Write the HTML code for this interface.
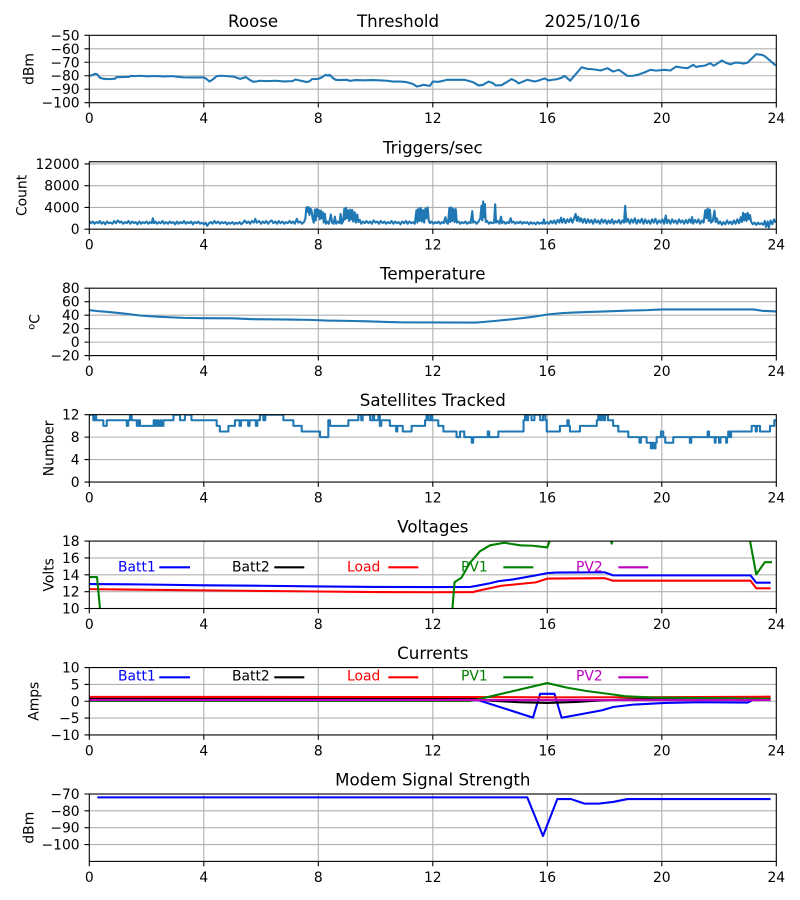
<!DOCTYPE html>
<html><head><meta charset="utf-8"><style>
html,body{margin:0;padding:0;background:#fff;}
svg{display:block;}
text{font-family:"DejaVu Sans","Liberation Sans",sans-serif;font-size:13.89px;fill:#000;}
.yt{text-anchor:end;}
.xt{text-anchor:middle;}
.ti{font-size:16.67px;text-anchor:middle;}
.tl{font-size:16.67px;}
.yl{text-anchor:middle;}
.grid{stroke:#b0b0b0;stroke-width:1.1;fill:none;}
.tick{stroke:#000;stroke-width:1.1;fill:none;}
.spine{stroke:#000;stroke-width:1.1;fill:none;}
.d{fill:none;stroke-width:2.08;stroke-linejoin:round;vector-effect:non-scaling-stroke;}
.c0{stroke:#1f77b4;}
</style></head><body>
<svg width="800" height="900" viewBox="0 0 800 900" xmlns="http://www.w3.org/2000/svg">
<defs>
<clipPath id="k1" clipPathUnits="userSpaceOnUse"><rect x="89.3" y="35.3" width="687" height="67.4"/></clipPath>
<clipPath id="k2" clipPathUnits="userSpaceOnUse"><rect x="89.3" y="161.75" width="687" height="67.4"/></clipPath>
<clipPath id="k3" clipPathUnits="userSpaceOnUse"><rect x="89.3" y="288.2" width="687" height="67.4"/></clipPath>
<clipPath id="k4" clipPathUnits="userSpaceOnUse"><rect x="89.3" y="414.65" width="687" height="67.4"/></clipPath>
<clipPath id="k5" clipPathUnits="userSpaceOnUse"><rect x="89.3" y="541.1" width="687" height="67.4"/></clipPath>
<clipPath id="k6" clipPathUnits="userSpaceOnUse"><rect x="89.3" y="667.55" width="687" height="67.4"/></clipPath>
<clipPath id="k7" clipPathUnits="userSpaceOnUse"><rect x="89.3" y="794" width="687" height="67.4"/></clipPath>
</defs>
<rect width="800" height="900" fill="#fff"/>

<!-- ============ P1 dBm ============ -->
<text class="tl" x="228" y="26.8">Roose</text>
<text class="tl" x="357" y="26.8">Threshold</text>
<text class="tl" x="544.5" y="26.8">2025/10/16</text>
<path class="grid" d="M203.8,35.3V102.7M318.3,35.3V102.7M432.8,35.3V102.7M547.3,35.3V102.7M661.8,35.3V102.7M89.3,48.78H776.3M89.3,62.26H776.3M89.3,75.74H776.3M89.3,89.22H776.3"/>
<g clip-path="url(#k1)"><polyline class="d c0" transform="matrix(28.625 0 0 -1.348 89.3 -32.1)" points="0,-80.1 0.1,-79.5 0.2,-78.6 0.28,-79 0.37,-81.5 0.5,-82.3 0.7,-82.5 0.9,-82.2 0.95,-81 1.2,-81 1.4,-80.8 1.45,-80.1 1.6,-80.3 1.8,-80 2.0,-80.4 2.3,-80.2 2.6,-80.5 2.9,-80.3 3.1,-80.8 3.3,-81.2 3.6,-81.3 4.0,-81.2 4.1,-82.5 4.2,-84.3 4.3,-83 4.45,-80.3 4.6,-80 4.8,-80.3 5.03,-80.6 5.15,-81.5 5.27,-82.3 5.4,-81.5 5.47,-81 5.6,-83 5.73,-84.5 5.85,-84.2 5.96,-83.7 6.2,-84 6.5,-83.7 6.8,-84.2 7.1,-84 7.2,-82.8 7.35,-83.5 7.6,-84.7 7.7,-84 7.78,-82.5 8.0,-82.3 8.1,-81.5 8.25,-79.3 8.35,-80 8.4,-79.3 8.5,-81.5 8.6,-83 8.76,-83.2 9.0,-83 9.1,-83.8 9.3,-83.2 9.6,-83.4 9.9,-83.2 10.2,-83.5 10.4,-83.7 10.6,-84.3 10.85,-84.3 11.08,-84.7 11.3,-86 11.44,-88 11.55,-87.5 11.67,-86.7 11.8,-87.2 11.9,-87.5 12.0,-84.3 12.2,-84.5 12.37,-83.7 12.5,-83 12.8,-83 13.1,-83 13.4,-84.7 13.6,-87.2 13.75,-86.8 13.95,-84.3 14.1,-85.5 14.2,-87.2 14.4,-87 14.6,-84.5 14.75,-82.5 14.9,-84 15.0,-85.7 15.15,-84.3 15.3,-83 15.55,-84.3 15.7,-83.5 15.9,-82 16.05,-83.5 16.2,-83 16.35,-82.5 16.5,-81.5 16.6,-80.1 16.8,-83.7 17.2,-73.7 17.4,-74.9 17.6,-75.2 17.86,-76.1 18.1,-74.4 18.3,-76.9 18.5,-75.6 18.8,-80.1 19.0,-80 19.16,-79.3 19.4,-77.5 19.6,-75.6 19.8,-76.2 20.1,-75.6 20.3,-76.1 20.5,-73.2 20.7,-74 20.9,-74.4 21.1,-71.9 21.2,-73.5 21.3,-73 21.5,-72.5 21.7,-70.7 21.8,-72.5 21.9,-71.5 22.1,-68.7 22.25,-70.5 22.4,-71.6 22.55,-70.3 22.7,-70.3 22.85,-71 23.0,-70.3 23.15,-67 23.3,-64 23.5,-64.5 23.6,-65.5 23.75,-68.2 23.95,-71.9 24,-72"/></g>
<rect class="spine" x="89.3" y="35.3" width="687" height="67.4"/>
<path class="tick" d="M89.3,102.7v4.86M203.8,102.7v4.86M318.3,102.7v4.86M432.8,102.7v4.86M547.3,102.7v4.86M661.8,102.7v4.86M776.3,102.7v4.86M84.44,35.3h4.86M84.44,48.78h4.86M84.44,62.26h4.86M84.44,75.74h4.86M84.44,89.22h4.86M84.44,102.7h4.86"/>
<text class="yt" x="79.6" y="40.3">−50</text><text class="yt" x="79.6" y="53.78">−60</text><text class="yt" x="79.6" y="67.26">−70</text><text class="yt" x="79.6" y="80.74">−80</text><text class="yt" x="79.6" y="94.22">−90</text><text class="yt" x="79.6" y="107.7">−100</text>
<text class="xt" x="89.3" y="123.2">0</text><text class="xt" x="203.8" y="123.2">4</text><text class="xt" x="318.3" y="123.2">8</text><text class="xt" x="432.8" y="123.2">12</text><text class="xt" x="547.3" y="123.2">16</text><text class="xt" x="661.8" y="123.2">20</text><text class="xt" x="776.3" y="123.2">24</text>
<text class="yl" transform="translate(33.3,69) rotate(-90)">dBm</text>

<!-- ============ P2 Triggers ============ -->
<text class="ti" x="432.8" y="153.25">Triggers/sec</text>
<path class="grid" d="M203.8,161.75V229.15M318.3,161.75V229.15M432.8,161.75V229.15M547.3,161.75V229.15M661.8,161.75V229.15M89.3,207.41H776.3M89.3,185.67H776.3M89.3,163.93H776.3"/>
<g clip-path="url(#k2)"><polyline class="d c0" transform="matrix(28.625 0 0 -5.435 89.3 229.15)" points="0,1.5 0.06,1.1 0.12,1.4 0.18,1.0 0.25,1.3 0.31,1.1 0.37,1.5 0.43,1.0 0.5,1.3 0.56,0.9 0.62,1.4 0.68,1.1 0.75,1.2 0.81,1.0 0.87,1.5 0.93,1.1 1.0,1.6 1.06,1.2 1.12,1.4 1.18,1.0 1.25,1.3 1.31,1.1 1.37,1.5 1.43,1.0 1.5,1.4 1.56,1.1 1.62,1.3 1.68,0.9 1.75,1.4 1.81,1.0 1.87,1.3 1.93,1.1 2.0,1.4 2.06,1.0 2.12,1.3 2.18,1.1 2.22,2.0 2.26,1.1 2.31,1.4 2.37,1.0 2.43,1.3 2.5,1.1 2.56,1.5 2.62,1.0 2.68,1.3 2.75,1.0 2.81,1.4 2.87,1.1 2.93,1.3 3.0,0.9 3.06,1.4 3.12,1.0 3.18,1.3 3.25,1.1 3.31,1.5 3.37,1.0 3.43,1.3 3.5,1.1 3.56,1.4 3.62,0.9 3.68,1.3 3.75,1.1 3.81,1.4 3.87,1.0 3.93,1.2 4.0,0.9 4.06,1.2 4.12,0.6 4.18,1.1 4.25,1.3 4.31,1.0 4.37,1.5 4.43,1.1 4.5,1.4 4.56,1.0 4.62,1.3 4.68,1.1 4.75,1.3 4.81,0.9 4.87,1.2 4.93,1.0 5.0,1.3 5.06,0.9 5.12,1.2 5.18,1.0 5.25,1.3 5.31,0.9 5.37,1.2 5.43,1.6 5.5,1.1 5.56,1.4 5.62,1.0 5.68,1.5 5.75,1.2 5.8,1.9 5.85,1.2 5.93,1.5 6.0,1.0 6.06,1.4 6.12,1.1 6.18,1.5 6.25,1.0 6.31,1.4 6.37,1.6 6.43,1.1 6.5,1.4 6.56,1.0 6.62,1.5 6.68,1.1 6.75,1.4 6.81,1.0 6.87,1.3 6.93,1.1 7.0,1.5 7.06,1.1 7.12,1.4 7.18,1.0 7.25,1.9 7.3,1.2 7.37,1.4 7.43,1.0 7.5,1.3 7.55,2.0 7.58,4.0 7.62,3.2 7.65,4.1 7.69,2.6 7.72,3.8 7.76,3.5 7.8,2.0 7.84,1.2 7.88,3.6 7.91,1.6 7.95,3.7 7.98,2.4 8.02,3.5 8.05,1.8 8.09,3.4 8.12,2.0 8.16,3.1 8.19,1.2 8.23,2.8 8.27,1.0 8.31,1.4 8.37,1.0 8.44,2.7 8.48,1.2 8.53,1.0 8.58,2.3 8.62,1.0 8.68,1.4 8.74,1.1 8.78,2.8 8.82,1.0 8.87,1.5 8.91,3.8 8.94,1.8 8.97,3.9 9.01,2.0 9.04,3.5 9.08,1.5 9.12,3.6 9.15,1.8 9.19,3.5 9.22,1.4 9.27,3.1 9.31,1.2 9.36,2.7 9.4,1.3 9.45,1.7 9.5,1.0 9.56,1.4 9.62,1.1 9.68,1.5 9.75,1.1 9.81,1.4 9.87,1.0 9.93,1.6 10.0,1.2 10.06,1.4 10.12,1.0 10.18,1.5 10.25,1.1 10.31,1.4 10.37,1.0 10.43,1.3 10.5,1.1 10.56,1.5 10.62,1.0 10.68,1.4 10.75,1.1 10.81,1.3 10.87,0.9 10.93,1.4 11.0,1.1 11.06,1.5 11.12,1.0 11.18,1.4 11.25,1.1 11.31,1.3 11.37,1.0 11.43,3.5 11.46,1.2 11.5,3.8 11.54,1.5 11.58,3.9 11.62,1.4 11.66,3.5 11.7,1.2 11.74,3.8 11.78,2.0 11.82,4.0 11.86,1.5 11.9,1.1 11.96,1.4 12.02,1.0 12.08,1.3 12.14,1.1 12.2,1.4 12.26,1.0 12.32,1.3 12.38,1.1 12.44,2.2 12.48,1.2 12.53,1.0 12.58,3.9 12.61,1.3 12.65,4.0 12.68,1.5 12.72,3.7 12.76,1.3 12.8,3.7 12.84,1.2 12.9,1.4 12.96,1.0 13.02,1.3 13.08,1.1 13.14,1.4 13.2,1.0 13.26,1.3 13.32,1.1 13.38,3.3 13.41,1.2 13.47,1.4 13.53,1.0 13.6,1.4 13.66,2.0 13.7,4.3 13.73,1.6 13.76,5.1 13.79,2.2 13.82,4.6 13.85,1.3 13.9,1.5 13.96,1.0 14.02,1.3 14.08,1.1 14.14,1.2 14.18,4.6 14.21,1.2 14.27,1.5 14.33,1.0 14.38,2.3 14.42,1.1 14.48,1.4 14.54,1.0 14.6,1.3 14.66,1.1 14.72,2.0 14.76,1.2 14.82,1.4 14.88,1.0 14.94,1.3 15.0,1.1 15.06,1.4 15.12,1.0 15.18,1.3 15.24,1.1 15.3,1.3 15.36,0.9 15.42,1.3 15.48,1.0 15.54,1.2 15.6,0.9 15.66,1.3 15.72,1.0 15.78,1.2 15.84,1.0 15.88,1.8 15.92,1.0 16.0,1.3 16.06,1.0 16.12,1.5 16.18,1.1 16.24,1.6 16.3,1.0 16.36,1.7 16.42,1.2 16.48,2.1 16.52,1.2 16.58,1.9 16.64,1.1 16.7,1.8 16.76,1.3 16.82,2.0 16.88,1.2 16.94,2.1 16.99,2.8 17.03,1.5 17.08,2.3 17.13,1.4 17.18,2.0 17.24,1.2 17.3,1.9 17.36,1.1 17.42,1.8 17.48,1.2 17.54,1.7 17.6,1.0 17.66,1.8 17.72,1.2 17.78,1.6 17.84,1.0 17.9,1.8 17.96,1.2 18.02,1.7 18.08,1.0 18.14,1.6 18.2,1.1 18.26,1.8 18.32,1.0 18.38,1.5 18.44,1.2 18.5,1.7 18.56,1.0 18.62,1.6 18.68,1.2 18.72,4.3 18.76,1.3 18.82,1.9 18.88,1.0 18.94,1.8 19.0,1.2 19.06,2.0 19.12,1.0 19.18,1.7 19.24,1.2 19.3,1.9 19.36,1.0 19.42,1.8 19.48,1.1 19.54,1.6 19.6,1.0 19.66,1.8 19.72,1.2 19.78,1.9 19.84,1.0 19.9,1.6 19.96,1.2 20.02,1.8 20.08,1.0 20.14,2.5 20.18,1.1 20.24,1.7 20.3,1.0 20.36,1.8 20.42,1.2 20.48,1.6 20.54,1.0 20.6,1.8 20.66,1.2 20.72,1.6 20.78,1.0 20.84,1.7 20.9,1.1 20.96,1.8 21.02,1.2 21.06,2.2 21.1,1.0 21.16,1.7 21.22,1.2 21.28,1.8 21.34,1.0 21.4,1.6 21.46,1.2 21.52,3.5 21.56,2.0 21.6,3.8 21.64,1.5 21.68,3.6 21.72,1.2 21.78,1.5 21.84,3.4 21.88,1.3 21.92,2.0 21.98,1.0 22.04,1.4 22.1,0.8 22.16,1.3 22.22,0.9 22.28,1.6 22.34,1.0 22.4,1.4 22.46,0.9 22.52,1.6 22.58,1.0 22.64,1.8 22.7,1.1 22.76,2.2 22.8,1.3 22.84,3.0 22.88,1.6 22.92,2.8 22.96,1.5 23.0,3.0 23.04,1.8 23.08,2.6 23.12,1.4 23.18,0.9 23.24,1.2 23.3,0.8 23.36,1.2 23.42,0.9 23.48,1.1 23.54,0.8 23.6,1.5 23.64,0.4 23.7,1.4 23.74,0.3 23.8,1.6 23.86,0.9 23.92,1.8 23.98,1.2"/></g>
<rect class="spine" x="89.3" y="161.75" width="687" height="67.4"/>
<path class="tick" d="M89.3,229.15v4.86M203.8,229.15v4.86M318.3,229.15v4.86M432.8,229.15v4.86M547.3,229.15v4.86M661.8,229.15v4.86M776.3,229.15v4.86M84.44,229.15h4.86M84.44,207.41h4.86M84.44,185.67h4.86M84.44,163.93h4.86"/>
<text class="yt" x="79.6" y="234.15">0</text><text class="yt" x="79.6" y="212.41">4000</text><text class="yt" x="79.6" y="190.67">8000</text><text class="yt" x="79.6" y="168.93">12000</text>
<text class="xt" x="89.3" y="249.65">0</text><text class="xt" x="203.8" y="249.65">4</text><text class="xt" x="318.3" y="249.65">8</text><text class="xt" x="432.8" y="249.65">12</text><text class="xt" x="547.3" y="249.65">16</text><text class="xt" x="661.8" y="249.65">20</text><text class="xt" x="776.3" y="249.65">24</text>
<text class="yl" transform="translate(26.7,195.45) rotate(-90)">Count</text>

<!-- ============ P3 Temperature ============ -->
<text class="ti" x="432.8" y="279.7">Temperature</text>
<path class="grid" d="M203.8,288.2V355.6M318.3,288.2V355.6M432.8,288.2V355.6M547.3,288.2V355.6M661.8,288.2V355.6M89.3,301.68H776.3M89.3,315.16H776.3M89.3,328.64H776.3M89.3,342.12H776.3"/>
<g clip-path="url(#k3)"><polyline class="d c0" transform="matrix(28.625 0 0 -0.674 89.3 342.12)" points="0,47.4 0.3,46 0.6,45 0.95,43.5 1.3,42 1.77,39.5 2.1,38.5 2.47,37.5 3.0,36.5 3.3,36 4.0,35.5 5.0,35.3 5.7,34 7.0,33.5 7.7,33 8.3,32 9.0,31.5 9.7,30.9 10.5,29.8 11.0,29.3 13.5,29 13.8,30 14.2,31.5 14.8,34 15.5,37.5 16.0,41 16.5,43 17.0,44 18.0,45.5 19.0,47 19.5,47.5 20.0,48.5 23.2,48.5 23.5,46.5 24,45.5"/></g>
<rect class="spine" x="89.3" y="288.2" width="687" height="67.4"/>
<path class="tick" d="M89.3,355.6v4.86M203.8,355.6v4.86M318.3,355.6v4.86M432.8,355.6v4.86M547.3,355.6v4.86M661.8,355.6v4.86M776.3,355.6v4.86M84.44,288.2h4.86M84.44,301.68h4.86M84.44,315.16h4.86M84.44,328.64h4.86M84.44,342.12h4.86M84.44,355.6h4.86"/>
<text class="yt" x="79.6" y="293.2">80</text><text class="yt" x="79.6" y="306.68">60</text><text class="yt" x="79.6" y="320.16">40</text><text class="yt" x="79.6" y="333.64">20</text><text class="yt" x="79.6" y="347.12">0</text><text class="yt" x="79.6" y="360.6">−20</text>
<text class="xt" x="89.3" y="376.1">0</text><text class="xt" x="203.8" y="376.1">4</text><text class="xt" x="318.3" y="376.1">8</text><text class="xt" x="432.8" y="376.1">12</text><text class="xt" x="547.3" y="376.1">16</text><text class="xt" x="661.8" y="376.1">20</text><text class="xt" x="776.3" y="376.1">24</text>
<text class="yl" transform="translate(39.3,321.9) rotate(-90)"><tspan font-size="9.7px" dy="-5">o</tspan><tspan dy="5">C</tspan></text>

<!-- ============ P4 Satellites ============ -->
<text class="ti" x="432.8" y="406.15">Satellites Tracked</text>
<path class="grid" d="M203.8,414.65V482.05M318.3,414.65V482.05M432.8,414.65V482.05M547.3,414.65V482.05M661.8,414.65V482.05M89.3,437.12H776.3M89.3,459.58H776.3"/>
<g clip-path="url(#k4)"><polyline class="d c0" transform="matrix(28.625 0 0 -5.6167 89.3 482.05)" points="0,12 0.14,12 0.14,11 0.2,11 0.2,12 0.24,12 0.24,11 0.49,11 0.49,10 0.61,10 0.61,11 1.31,11 1.31,10 1.36,10 1.36,11 1.42,11 1.42,12 1.48,12 1.48,11 1.66,11 1.66,10 1.72,10 1.72,11 1.77,11 1.77,10 2.25,10 2.25,11 2.3,11 2.3,10 2.36,10 2.36,11 2.4,11 2.4,10 2.47,10 2.47,11 2.52,11 2.52,10 2.59,10 2.59,11 2.94,11 2.94,12 3.17,12 3.17,11 3.34,11 3.34,12 3.57,12 3.57,11 4.45,11 4.45,10 4.56,10 4.56,9 4.86,9 4.86,10 5.09,10 5.09,11 5.25,11 5.25,10 5.3,10 5.3,11 5.55,11 5.55,10 5.6,10 5.6,11 5.82,11 5.82,10 5.87,10 5.87,11 5.96,11 5.96,12 6.08,12 6.08,11 6.15,11 6.15,12 6.78,12 6.78,11 7.13,11 7.13,10 7.42,10 7.42,9 8.06,9 8.06,8 8.35,8 8.35,11 8.41,11 8.41,10 9.05,10 9.05,11 9.4,11 9.4,12 9.5,12 9.5,11 9.55,11 9.55,12 9.81,12 9.81,11 9.9,11 9.9,12 9.95,12 9.95,11 10.1,11 10.1,12 10.15,12 10.15,10 10.2,10 10.2,11 10.5,11 10.5,10 10.72,10 10.72,9 10.76,9 10.76,10 10.95,10 10.95,9 11.26,9 11.26,10 11.73,10 11.73,11 11.78,11 11.78,12 11.85,12 11.85,11 11.93,11 11.93,12 11.98,12 11.98,11 12.19,11 12.19,10 12.37,10 12.37,9 12.83,9 12.83,8 12.95,8 12.95,9 13.1,9 13.1,8 13.36,8 13.36,7 13.41,7 13.41,8 13.92,8 13.92,9 13.97,9 13.97,8 14.29,8 14.29,9 15.17,9 15.17,11 15.22,11 15.22,12 15.28,12 15.28,11 15.33,11 15.33,12 15.45,12 15.45,11 15.55,11 15.55,12 15.75,12 15.75,11 15.85,11 15.85,12 15.93,12 15.93,11 15.98,11 15.98,9 16.44,9 16.44,10 16.7,10 16.7,11 16.75,11 16.75,10 16.79,10 16.79,9 17.14,9 17.14,10 17.73,10 17.73,11 17.78,11 17.78,12 17.85,12 17.85,11 17.9,11 17.9,12 17.97,12 17.97,11 18.02,11 18.02,12 18.12,12 18.12,11 18.3,11 18.3,10 18.48,10 18.48,9 18.83,9 18.83,8 19.22,8 19.22,7 19.27,7 19.27,8 19.47,8 19.47,7 19.62,7 19.62,6 19.66,6 19.66,7 19.72,7 19.72,6 19.78,6 19.78,7 19.82,7 19.82,8 19.97,8 19.97,9 20.05,9 20.05,8 20.12,8 20.12,7 20.4,7 20.4,8 20.98,8 20.98,7 21.03,7 21.03,8 21.6,8 21.6,9 21.65,9 21.65,8 21.85,8 21.85,7 21.88,7 21.88,8 22.0,8 22.0,7 22.05,7 22.05,8 22.25,8 22.25,7 22.28,7 22.28,8 22.32,8 22.32,9 22.37,9 22.37,8 22.42,8 22.42,9 23.14,9 23.14,10 23.28,10 23.28,9 23.32,9 23.32,10 23.43,10 23.43,9 23.78,9 23.78,10 23.93,10 23.93,11 24,11"/></g>
<rect class="spine" x="89.3" y="414.65" width="687" height="67.4"/>
<path class="tick" d="M89.3,482.05v4.86M203.8,482.05v4.86M318.3,482.05v4.86M432.8,482.05v4.86M547.3,482.05v4.86M661.8,482.05v4.86M776.3,482.05v4.86M84.44,414.65h4.86M84.44,437.12h4.86M84.44,459.58h4.86M84.44,482.05h4.86"/>
<text class="yt" x="79.6" y="419.65">12</text><text class="yt" x="79.6" y="442.12">8</text><text class="yt" x="79.6" y="464.58">4</text><text class="yt" x="79.6" y="487.05">0</text>
<text class="xt" x="89.3" y="502.55">0</text><text class="xt" x="203.8" y="502.55">4</text><text class="xt" x="318.3" y="502.55">8</text><text class="xt" x="432.8" y="502.55">12</text><text class="xt" x="547.3" y="502.55">16</text><text class="xt" x="661.8" y="502.55">20</text><text class="xt" x="776.3" y="502.55">24</text>
<text class="yl" transform="translate(53.3,448.35) rotate(-90)">Number</text>

<!-- ============ P5 Voltages ============ -->
<text class="ti" x="432.8" y="532.6">Voltages</text>
<path class="grid" d="M203.8,541.1V608.5M318.3,541.1V608.5M432.8,541.1V608.5M547.3,541.1V608.5M661.8,541.1V608.5M89.3,557.95H776.3M89.3,574.8H776.3M89.3,591.65H776.3"/>
<g clip-path="url(#k5)">
<polyline class="d" stroke="#0000ff" transform="matrix(28.625 0 0 -8.425 89.3 692.75)" points="0,12.9 2,12.85 4,12.75 6,12.7 8,12.62 10,12.56 12,12.54 13.3,12.55 13.6,12.74 14.0,13.0 14.3,13.25 14.8,13.45 15.6,13.93 16.0,14.2 16.3,14.27 18.0,14.3 18.3,13.93 23.1,13.93 23.3,13.06 23.8,13.06"/>
<polyline class="d" stroke="#ff0000" transform="matrix(28.625 0 0 -8.425 89.3 692.75)" points="0,12.3 4,12.15 8,12.02 10,11.95 12,11.93 13.4,11.95 13.7,12.2 14.4,12.7 15.6,13.1 16.0,13.55 18.0,13.6 18.3,13.3 23.1,13.3 23.3,12.4 23.8,12.4"/>
<polyline class="d" stroke="#008000" transform="matrix(28.625 0 0 -8.425 89.3 692.75)" points="0,13.73 0.27,13.73 0.65,0 12.45,0 12.76,13.13 13.0,13.65 13.3,15.43 13.65,16.8 14.0,17.5 14.5,17.8 15.05,17.5 15.5,17.45 16.0,17.25 16.25,19.5 18.15,19.5 18.25,17.7 18.35,19.5 23.0,19.5 23.3,14.05 23.6,15.5 23.85,15.5"/>
</g>
<rect class="spine" x="89.3" y="541.1" width="687" height="67.4"/>
<path class="tick" d="M89.3,608.5v4.86M203.8,608.5v4.86M318.3,608.5v4.86M432.8,608.5v4.86M547.3,608.5v4.86M661.8,608.5v4.86M776.3,608.5v4.86M84.44,541.1h4.86M84.44,557.95h4.86M84.44,574.8h4.86M84.44,591.65h4.86M84.44,608.5h4.86"/>
<text class="yt" x="79.6" y="546.1">18</text><text class="yt" x="79.6" y="562.95">16</text><text class="yt" x="79.6" y="579.8">14</text><text class="yt" x="79.6" y="596.65">12</text><text class="yt" x="79.6" y="613.5">10</text>
<text class="xt" x="89.3" y="629">0</text><text class="xt" x="203.8" y="629">4</text><text class="xt" x="318.3" y="629">8</text><text class="xt" x="432.8" y="629">12</text><text class="xt" x="547.3" y="629">16</text><text class="xt" x="661.8" y="629">20</text><text class="xt" x="776.3" y="629">24</text>
<text class="yl" transform="translate(53.3,574.8) rotate(-90)">Volts</text>
<text x="118" y="571.5" fill="#0000ff" style="fill:#0000ff">Batt1</text>
<text x="232" y="571.5">Batt2</text>
<text x="347" y="571.5" style="fill:#ff0000">Load</text>
<text x="461" y="571.5" style="fill:#008000">PV1</text>
<text x="576" y="571.5" style="fill:#bf00bf">PV2</text>
<path stroke-width="2.08" fill="none" stroke="#0000ff" d="M159.3,567.3H190"/>
<path stroke-width="2.08" fill="none" stroke="#000" d="M274.3,567.3H304.3"/>
<path stroke-width="2.08" fill="none" stroke="#ff0000" d="M388.3,567.3H418.3"/>
<path stroke-width="2.08" fill="none" stroke="#008000" d="M503.3,567.3H533.3"/>
<path stroke-width="2.08" fill="none" stroke="#bf00bf" d="M618.3,567.3H648.3"/>

<!-- ============ P6 Currents ============ -->
<text class="ti" x="432.8" y="659.05">Currents</text>
<path class="grid" d="M203.8,667.55V734.95M318.3,667.55V734.95M432.8,667.55V734.95M547.3,667.55V734.95M661.8,667.55V734.95M89.3,684.4H776.3M89.3,701.25H776.3M89.3,718.1H776.3"/>
<g clip-path="url(#k6)">
<polyline class="d" stroke="#0000ff" transform="matrix(28.625 0 0 -3.37 89.3 701.25)" points="0,0.35 13.4,0.35 13.6,0.3 15.5,-4.85 15.75,2.2 16.25,2.2 16.5,-4.9 17.9,-2.7 18.3,-1.7 19.0,-1.0 20.1,-0.5 21.3,-0.3 23.0,-0.4 23.2,0.5 23.8,0.5"/>
<polyline class="d" stroke="#000000" transform="matrix(28.625 0 0 -3.37 89.3 701.25)" points="0,0.75 13.5,0.75 14,0.2 15,-0.3 16,-0.5 17,-0.2 18,0.3 19,0.6 23.8,0.75"/>
<polyline class="d" stroke="#ff0000" transform="matrix(28.625 0 0 -3.37 89.3 701.25)" points="0,1.3 13,1.25 16,1.15 20,1.2 23.8,1.35"/>
<polyline class="d" stroke="#008000" transform="matrix(28.625 0 0 -3.37 89.3 701.25)" points="0,0.1 13.3,0.1 13.55,0.5 16.0,5.4 16.7,4.0 17.4,3.0 18.3,2.0 18.7,1.5 19.7,1.1 23.1,0.8 23.8,0.7"/>
<polyline class="d" stroke="#bf00bf" transform="matrix(28.625 0 0 -3.37 89.3 701.25)" points="0,0.35 23.8,0.35"/>
</g>
<rect class="spine" x="89.3" y="667.55" width="687" height="67.4"/>
<path class="tick" d="M89.3,734.95v4.86M203.8,734.95v4.86M318.3,734.95v4.86M432.8,734.95v4.86M547.3,734.95v4.86M661.8,734.95v4.86M776.3,734.95v4.86M84.44,667.55h4.86M84.44,684.4h4.86M84.44,701.25h4.86M84.44,718.1h4.86M84.44,734.95h4.86"/>
<text class="yt" x="79.6" y="672.55">10</text><text class="yt" x="79.6" y="689.4">5</text><text class="yt" x="79.6" y="706.25">0</text><text class="yt" x="79.6" y="723.1">−5</text><text class="yt" x="79.6" y="739.95">−10</text>
<text class="xt" x="89.3" y="755.45">0</text><text class="xt" x="203.8" y="755.45">4</text><text class="xt" x="318.3" y="755.45">8</text><text class="xt" x="432.8" y="755.45">12</text><text class="xt" x="547.3" y="755.45">16</text><text class="xt" x="661.8" y="755.45">20</text><text class="xt" x="776.3" y="755.45">24</text>
<text class="yl" transform="translate(38.4,701.25) rotate(-90)">Amps</text>
<text x="118" y="680.5" style="fill:#0000ff">Batt1</text>
<text x="232" y="680.5">Batt2</text>
<text x="347" y="680.5" style="fill:#ff0000">Load</text>
<text x="461" y="680.5" style="fill:#008000">PV1</text>
<text x="576" y="680.5" style="fill:#bf00bf">PV2</text>
<path stroke-width="2.08" fill="none" stroke="#0000ff" d="M159.3,677.3H190"/>
<path stroke-width="2.08" fill="none" stroke="#000" d="M274.3,677.3H304.3"/>
<path stroke-width="2.08" fill="none" stroke="#ff0000" d="M388.3,677.3H418.3"/>
<path stroke-width="2.08" fill="none" stroke="#008000" d="M503.3,677.3H533.3"/>
<path stroke-width="2.08" fill="none" stroke="#bf00bf" d="M618.3,677.3H648.3"/>

<!-- ============ P7 Modem ============ -->
<text class="ti" x="432.8" y="785.5">Modem Signal Strength</text>
<path class="grid" d="M203.8,794V861.4M318.3,794V861.4M432.8,794V861.4M547.3,794V861.4M661.8,794V861.4M89.3,810.85H776.3M89.3,827.7H776.3M89.3,844.55H776.3"/>
<g clip-path="url(#k7)"><polyline class="d" stroke="#0000ff" transform="matrix(28.625 0 0 -1.685 89.3 676.05)" points="0.28,-72 15.3,-72 15.85,-94.9 16.35,-73 16.83,-73 17.3,-75.7 17.8,-75.7 18.3,-74.7 18.8,-73 23.8,-73"/></g>
<rect class="spine" x="89.3" y="794" width="687" height="67.4"/>
<path class="tick" d="M89.3,861.4v4.86M203.8,861.4v4.86M318.3,861.4v4.86M432.8,861.4v4.86M547.3,861.4v4.86M661.8,861.4v4.86M776.3,861.4v4.86M84.44,794h4.86M84.44,810.85h4.86M84.44,827.7h4.86M84.44,844.55h4.86"/>
<text class="yt" x="79.6" y="799">−70</text><text class="yt" x="79.6" y="815.85">−80</text><text class="yt" x="79.6" y="832.7">−90</text><text class="yt" x="79.6" y="849.55">−100</text>
<text class="xt" x="89.3" y="882">0</text><text class="xt" x="203.8" y="882">4</text><text class="xt" x="318.3" y="882">8</text><text class="xt" x="432.8" y="882">12</text><text class="xt" x="547.3" y="882">16</text><text class="xt" x="661.8" y="882">20</text><text class="xt" x="776.3" y="882">24</text>
<text class="yl" transform="translate(33.3,827.7) rotate(-90)">dBm</text>
</svg>
</body></html>
